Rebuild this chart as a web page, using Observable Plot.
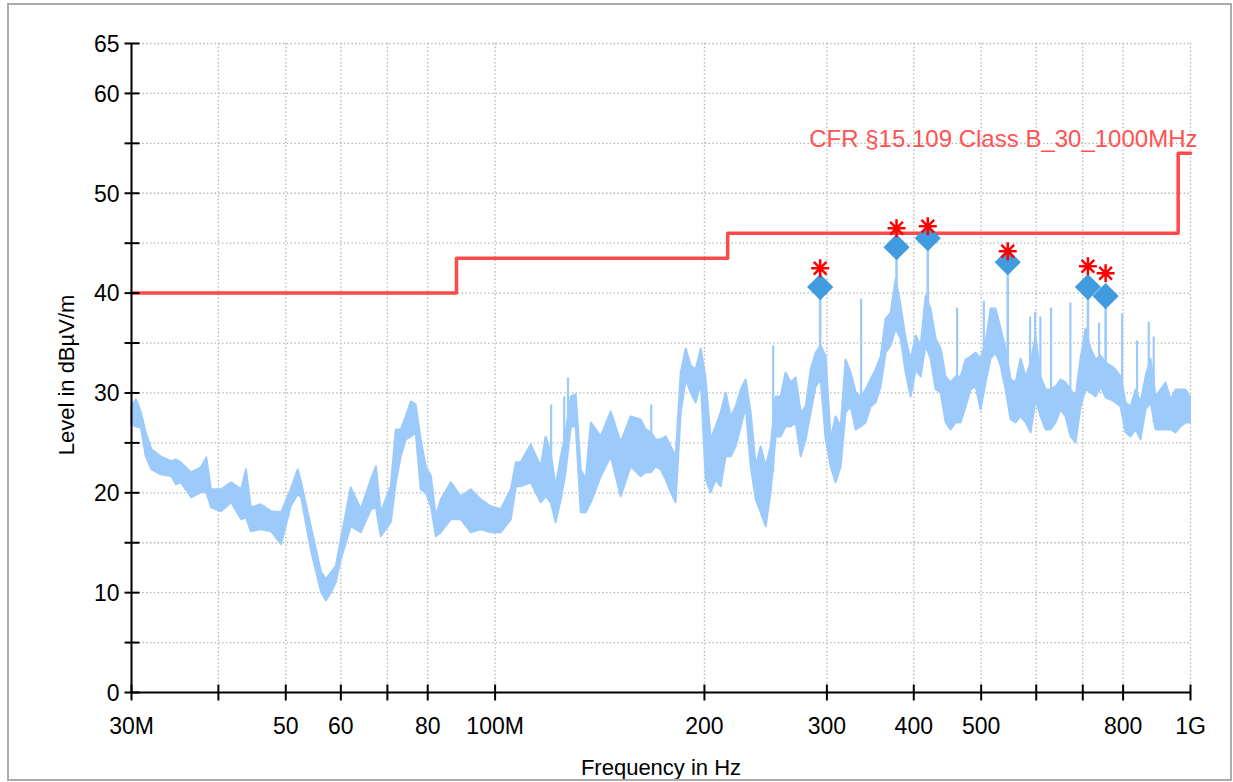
<!DOCTYPE html>
<html>
<head>
<meta charset="utf-8">
<script src="https://cdn.jsdelivr.net/npm/d3@7"></script>
<script src="https://cdn.jsdelivr.net/npm/@observablehq/plot@0.6"></script>
<style>
  html, body { margin: 0; padding: 0; background: #fff; }
  #wrap { position: relative; width: 1233px; height: 782px; overflow: hidden; }
  #border { position: absolute; left: 7px; top: 3px; width: 1221px; height: 774px; border: 2px solid #ababab; pointer-events: none; }
</style>
</head>
<body>
<div id="wrap"><div id="border"></div></div>
<script>
// ---- Measured trace (envelope of the dense scan), frequency in MHz, level in dBµV/m
const traceFreq = [30.0,30.5,31.0,31.5,32.1,33.1,34.3,34.8,35.4,36.6,37.8,38.5,39.1,40.4,41.8,43.2,43.9,44.6,46.1,47.7,49.3,50.9,52.1,52.7,54.4,56.3,57.2,58.2,59.1,60.1,62.1,64.2,66.4,67.5,68.6,70.9,72.1,73.3,74.5,75.8,77.0,78.3,79.6,81.0,82.3,83.7,86.5,89.4,92.4,95.5,98.7,102.1,105.5,107.3,109.0,112.7,116.5,118.4,120.4,122.4,124.5,126.5,128.7,130.8,133.0,135.2,137.5,142.1,146.9,151.8,156.9,162.2,164.9,167.7,170.5,173.3,176.2,179.2,182.1,185.2,188.3,191.4,194.6,197.9,201.2,204.5,207.9,211.4,214.9,218.5,222.2,225.9,229.6,233.5,237.4,241.3,245.4,249.4,253.6,257.8,262.1,266.5,271.0,275.5,280.1,284.8,289.5,294.3,299.3,304.3,309.3,314.5,319.7,325.1,330.5,336.0,341.6,347.3,353.1,359.0,365.0,371.1,377.3,383.6,390.0,396.5,403.1,409.8,416.7,423.6,430.7,437.9,445.2,452.6,460.2,467.9,475.7,483.6,491.7,499.9,508.2,516.7,525.3,534.1,543.0,552.1,561.3,570.7,580.2,589.9,599.7,609.7,619.9,630.2,640.8,651.5,662.3,673.4,684.6,696.0,707.7,719.5,731.5,743.7,756.1,768.7,781.5,794.6,807.9,821.3,835.0,849.0,863.1,877.6,892.2,907.1,922.2,937.6,953.3,969.2,985.3,1000];
const traceHi = [28.6,29.3,28.0,26.0,24.3,23.6,23.1,23.3,23.0,22.0,22.5,23.5,20.3,20.3,21.0,20.3,22.3,18.5,18.8,18.1,18.0,20.3,22.3,21.0,16.6,12.0,11.3,12.0,12.6,15.3,20.5,18.3,21.3,22.6,18.0,20.6,26.3,26.3,27.6,29.1,28.8,25.3,22.6,21.6,17.6,19.3,21.0,19.6,20.3,19.3,18.6,18.3,20.3,23.0,23.0,24.8,22.6,25.6,24.0,20.6,23.6,26.0,29.6,29.8,22.3,21.3,27.0,25.6,28.1,25.0,27.6,27.3,26.3,26.0,25.3,25.3,25.6,24.6,23.6,32.0,34.4,32.7,32.3,34.4,31.3,25.3,26.6,28.0,30.0,27.6,28.6,30.3,31.3,28.0,22.6,24.6,22.6,24.6,29.6,29.6,32.0,31.0,31.5,28.0,28.6,32.3,34.0,34.7,33.6,25.3,27.6,26.6,33.3,32.0,30.0,29.6,30.3,31.3,32.3,33.6,37.4,38.0,41.4,38.7,35.4,33.3,35.7,34.7,39.7,38.4,35.4,34.4,31.6,31.0,31.6,31.6,33.3,33.6,34.0,33.4,35.0,38.4,38.4,36.4,34.4,31.3,31.0,33.4,31.6,33.0,35.7,31.6,30.3,30.3,30.6,31.3,31.0,30.3,29.6,33.4,36.4,34.4,33.3,33.7,33.0,32.7,32.3,31.6,29.0,28.6,30.3,29.0,31.6,33.4,29.6,30.3,31.0,29.3,30.3,30.3,30.3,29.6];
const traceLo = [26.8,26.6,26.5,23.6,22.3,21.8,21.6,20.8,21.0,19.5,20.0,20.0,18.5,18.1,19.0,17.3,17.5,16.1,16.3,16.1,14.8,18.6,19.8,19.5,14.3,10.0,9.2,10.0,11.0,13.3,16.6,16.0,18.3,18.5,15.6,17.0,21.0,23.6,25.3,25.6,26.0,20.3,20.0,18.6,15.6,16.0,17.3,17.3,16.0,16.3,16.0,16.0,17.3,20.6,20.6,21.0,19.0,19.6,19.0,17.0,19.3,22.0,26.6,26.6,18.0,18.0,19.0,21.6,23.6,19.6,22.6,21.6,22.0,22.0,22.6,22.3,21.3,20.0,19.0,28.0,31.3,30.0,29.0,31.0,21.3,20.0,21.3,20.6,23.6,23.6,24.6,26.6,28.6,22.6,19.3,18.0,16.6,20.0,25.6,25.6,26.6,26.6,27.0,23.6,25.3,28.0,30.6,31.3,25.3,22.6,21.0,22.6,28.0,28.6,26.3,26.6,27.0,28.6,29.0,30.6,34.0,34.7,36.4,35.4,32.0,29.6,32.3,31.6,34.7,33.4,30.3,30.0,27.0,26.3,27.0,27.0,28.6,30.3,30.6,28.3,31.0,33.4,34.0,32.7,30.3,27.3,27.0,27.6,27.0,26.0,29.3,27.6,26.3,26.3,27.0,28.3,27.6,25.6,25.0,28.6,30.3,30.0,29.6,30.6,29.5,29.3,29.0,28.6,26.0,25.6,26.3,25.3,28.3,29.0,26.3,26.3,26.3,26.3,26.0,26.6,27.0,27.0];

// ---- Narrow spikes of the scan
const spikeFreq = [120.4,125.7,127.3,167.7,251.1,336.0,461.7,504.4,519.6,587.9,597.7,608.3,630.2,671.8,738.8,797.2,837.8,870.9,885.4];
const spikeBase = [20,22,24,23,22,28,28,30,34,28,30,28,27,27,30,29,27,29,27];
const spikeTop  = [28.8,29.6,31.5,28.8,34.7,39.4,38.5,39.2,38.5,37.6,38.1,37.6,38.5,39.0,37.0,37.9,35.2,37.1,35.6];

// ---- Final measurement peaks (diamonds) and quasi-peak (stars)
const peakFreq  = [293.4,377.8,419.0,546.0,712.0,755.0];
const peakLevel = [40.6,44.6,45.5,43.1,40.6,39.7];
const peakBase  = [32,37,35,30,31,30];
const qpLevel   = [42.5,46.5,46.7,44.2,42.7,42.0];

// ---- Limit line (step)
const limitFreq  = [30,88,216,960,1000];
const limitLevel = [40,43.5,46,54,54];
const limitName  = "CFR §15.109 Class B_30_1000MHz";

// ---- Axes
const xTicks = [30,40,50,60,70,80,100,200,300,400,500,600,700,800,1000];
const xLabelVals = [30,50,60,80,100,200,300,400,500,800,1000];
const xLabelText = ["30M","50","60","80","100M","200","300","400","500","800","1G"];
const yTicks = [0,5,10,15,20,25,30,35,40,45,50,55,60,65];
const yLabels = [0,10,20,30,40,50,60,65];

const trace = traceFreq.map((f,i) => ({f, hi: traceHi[i], lo: traceLo[i]}));
const spikes = spikeFreq.map((f,i) => ({f, base: spikeBase[i], top: spikeTop[i]}));
const peaks = peakFreq.map((f,i) => ({f, level: peakLevel[i], base: peakBase[i], qp: qpLevel[i]}));
const limit = limitFreq.map((f,i) => ({f, level: limitLevel[i]}));

const star8 = {draw(ctx, size) {
  const r = Math.sqrt(size / Math.PI), d = r * Math.SQRT1_2;
  ctx.moveTo(-r,0); ctx.lineTo(r,0);
  ctx.moveTo(0,-r); ctx.lineTo(0,r);
  ctx.moveTo(-d,-d); ctx.lineTo(d,d);
  ctx.moveTo(-d,d); ctx.lineTo(d,-d);
}};
const hTick = {draw(ctx) { ctx.moveTo(-7,0); ctx.lineTo(8,0); }};
const vTick = {draw(ctx) { ctx.moveTo(0,-8); ctx.lineTo(0,8); }};

const traceColor = "#9ccbfb";
const gridStyle = {stroke: "#b3b3b3", strokeWidth: 1.3, strokeDasharray: "1.4,2.4"};
const FS = 23;

const chart = Plot.plot({
  width: 1233, height: 782,
  marginLeft: 131, marginRight: 43, marginTop: 43, marginBottom: 90,
  x: {type: "log", domain: [30, 1000], axis: null},
  y: {domain: [0, 65], axis: null},
  style: {fontFamily: "'Liberation Sans', Arial, sans-serif", background: "transparent", overflow: "visible"},
  marks: [
    Plot.ruleY(yTicks.slice(1), {y: d => d, ...gridStyle}),
    Plot.ruleX(xTicks.slice(1), {x: d => d, ...gridStyle}),
    Plot.areaY(trace, {x: "f", y1: "lo", y2: "hi", fill: traceColor, stroke: traceColor, strokeWidth: 2}),
    Plot.ruleX(spikes, {x: "f", y1: "base", y2: "top", stroke: traceColor, strokeWidth: 2.2}),
    Plot.ruleX(peaks, {x: "f", y1: "base", y2: "level", stroke: traceColor, strokeWidth: 2.6}),
    Plot.line(limit, {x: "f", y: "level", curve: "step-after", stroke: "#ff4a4a", strokeWidth: 3.5}),
    Plot.text([limitName], {x: () => 1000, y: () => 54, text: d => d, textAnchor: "end", dx: 7, dy: -14, fill: "#ff5252", fontSize: 24}),
    Plot.dot(peaks, {x: "f", y: "level", symbol: "diamond2", r: 11.8, fill: "#419bdf", stroke: "none"}),
    Plot.dot(peaks, {x: "f", y: "qp", symbol: star8, r: 9, fill: "none", stroke: "#ff0000", strokeWidth: 2.5}),
    // axes
    Plot.ruleX([30], {x: d => d, stroke: "#000", strokeWidth: 2}),
    Plot.ruleY([0], {y: d => d, stroke: "#000", strokeWidth: 2}),
    Plot.dot(yTicks, {x: () => 30, y: d => d, symbol: hTick, r: 3, fill: "none", stroke: "#000", strokeWidth: 2}),
    Plot.dot(xTicks, {x: d => d, y: () => 0, symbol: vTick, r: 3, fill: "none", stroke: "#000", strokeWidth: 2}),
    Plot.text(yLabels, {x: () => 30, y: d => d, text: d => String(d), textAnchor: "end", dx: -12, dy: 1, fontSize: FS, fill: "#000"}),
    Plot.text(xLabelVals, {x: d => d, y: () => 0, text: (d, i) => xLabelText[i], dy: 34, fontSize: FS, fill: "#000"}),
    Plot.text(["Frequency in Hz"], {frameAnchor: "bottom", text: d => d, textAnchor: "middle", lineAnchor: "middle", dy: 75, fontSize: FS - 1, fill: "#000"}),
    Plot.text(["Level in dBµV/m"], {frameAnchor: "left", text: d => d, textAnchor: "middle", lineAnchor: "middle", rotate: -90, dx: -65, dy: 7, fontSize: FS - 1, fill: "#000"})
  ]
});
document.getElementById("wrap").prepend(chart);
</script>
</body>
</html>
